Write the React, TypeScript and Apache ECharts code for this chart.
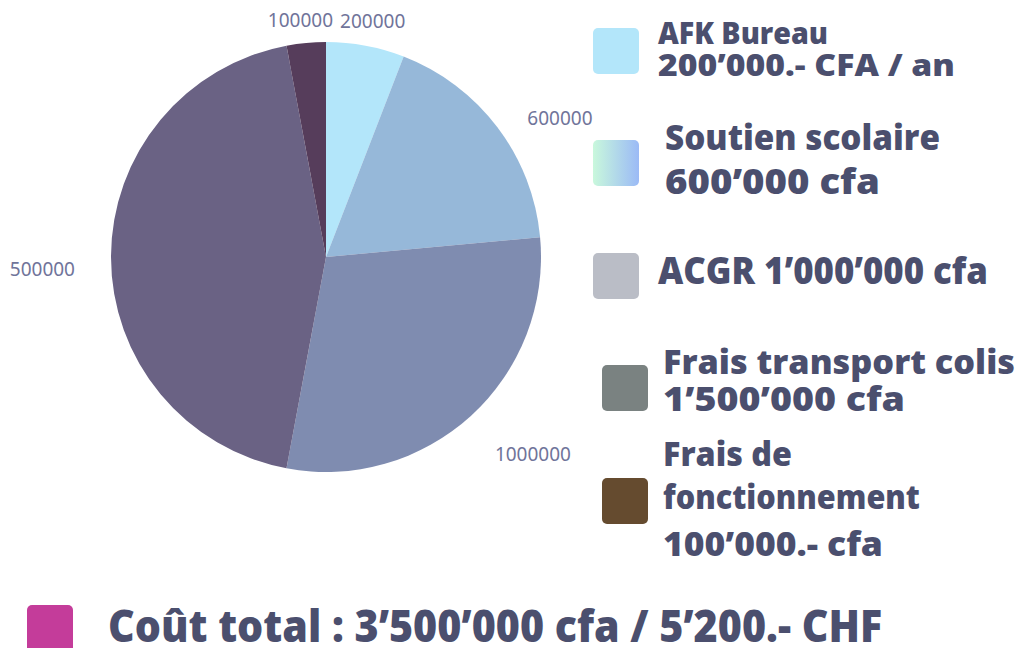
import React, { useEffect, useRef } from "react";
import * as echarts from "echarts";

const sliceNames = ["AFK Bureau", "Soutien scolaire", "ACGR", "Frais transport colis", "Frais de fonctionnement"];
const sliceValues = [200000, 600000, 1000000, 1500000, 100000];
const sliceLabels = ["200000", "600000", "1000000", "500000", "100000"];
const sliceColors = ["#b3e6fa", "#96b8d9", "#7f8cb0", "#6a6284", "#563d5b"];

const legendLines = [
  ["AFK Bureau", "200’000.- CFA / an"],
  ["Soutien scolaire", "600’000 cfa"],
  ["ACGR 1’000’000 cfa"],
  ["Frais transport colis", "1’500’000 cfa"],
  ["Frais de", "fonctionnement", "100’000.- cfa"],
];
const totalText = "Coût total : 3’500’000 cfa / 5’200.- CHF";

// label placement tuning (line lengths, hidden lines)
const labelLen = [25, 16, 52, 10, 23];
const labelLen2 = [-35, 12, -16, 21, -34];
const labelDy = [0, 0, 0, 12, 0];

const TEXT = "#4b4f6e";
const FONT = "'Open Sans', sans-serif";

export default function App() {
  const ref = useRef<HTMLDivElement>(null);
  useEffect(() => {
    if (!ref.current) return;
    const chart = echarts.init(ref.current, undefined, { renderer: "svg" });
    const ctx = document.createElement("canvas").getContext("2d");
    const fit = (text: string, font: string, target: number) => {
      if (!ctx) return 1;
      ctx.font = font;
      const w = ctx.measureText(text).width;
      return w > 0 ? target / w : 1;
    };

    const legendRects = [
      { x: 593, y: 28, fill: sliceColors[0] },
      { x: 593, y: 140, fill: new echarts.graphic.LinearGradient(0, 0, 1, 0, [
        { offset: 0, color: "#c9f8dc" },
        { offset: 1, color: "#9bbaf6" },
      ]) },
      { x: 593, y: 253, fill: "#babdc6" },
      { x: 602, y: 365, fill: "#7a8281" },
      { x: 602, y: 478, fill: "#654b2f" },
    ];
    const legendText = [
      { x: 658, ys: [33, 64], ws: [170, 297], size: 30, lh: 30 },
      { x: 665, ys: [136, 180], ws: [275, 215], size: 36, lh: 42 },
      { x: 658, ys: [270], ws: [330], size: 37, lh: 40 },
      { x: 663, ys: [361, 398], ws: [352, 242], size: 34, lh: 36 },
      { x: 663, ys: [453, 495, 543], ws: [129, 257, 220], size: 34, lh: 40 },
    ];

    const graphics: any[] = [];
    legendRects.forEach((r) => {
      graphics.push({
        type: "rect",
        shape: { x: r.x, y: r.y, width: 46, height: 46, r: 5 },
        style: { fill: r.fill },
      });
    });
    legendText.forEach((t, i) => {
      legendLines[i].forEach((line, j) => {
        const font = `800 ${t.size}px ${FONT}`;
        graphics.push({
          type: "text",
          x: t.x,
          y: t.ys[j],
          scaleX: fit(line, font, t.ws[j]),
          style: {
            text: line,
            fill: TEXT,
            font,
            lineHeight: t.lh,
            textAlign: "left",
            textVerticalAlign: "middle",
          },
        });
      });
    });
    graphics.push({
      type: "rect",
      shape: { x: 27, y: 605, width: 46, height: 60, r: 5 },
      style: { fill: "#c43c9a" },
    });
    const totalFont = `800 44px ${FONT}`;
    graphics.push({
      type: "text",
      x: 108,
      y: 624,
      scaleX: fit(totalText, totalFont, 774),
      style: {
        text: totalText,
        fill: TEXT,
        font: totalFont,
        lineHeight: 34,
        textAlign: "left",
        textVerticalAlign: "middle",
      },
    });

    chart.setOption({
      animation: false,
      graphic: graphics,
      series: [
        {
          type: "pie",
          center: [326, 257],
          radius: [0, 215],
          startAngle: 90,
          clockwise: true,
          avoidLabelOverlap: false,
          silent: true,
          itemStyle: { borderWidth: 0 },
          label: {
            show: true,
            position: "outside",
            color: "#70749a",
            fontFamily: "'Noto Sans', sans-serif",
            fontSize: 19,
            bleedMargin: 0,
            formatter: (p: any) => sliceLabels[p.dataIndex],
          },
          labelLayout: (p: any) => ({ dy: labelDy[p.dataIndex] }),
          labelLine: { show: false },
          data: sliceValues.map((v, i) => ({
            name: sliceNames[i],
            value: v,
            itemStyle: { color: sliceColors[i] },
            labelLine: { show: false, length: labelLen[i], length2: labelLen2[i] },
          })),
        },
      ],
    });
    return () => chart.dispose();
  }, []);
  return (
    <div
      ref={ref}
      style={{ position: "fixed", left: 0, top: 0, width: 1022, height: 648, background: "#fff" }}
    />
  );
}
